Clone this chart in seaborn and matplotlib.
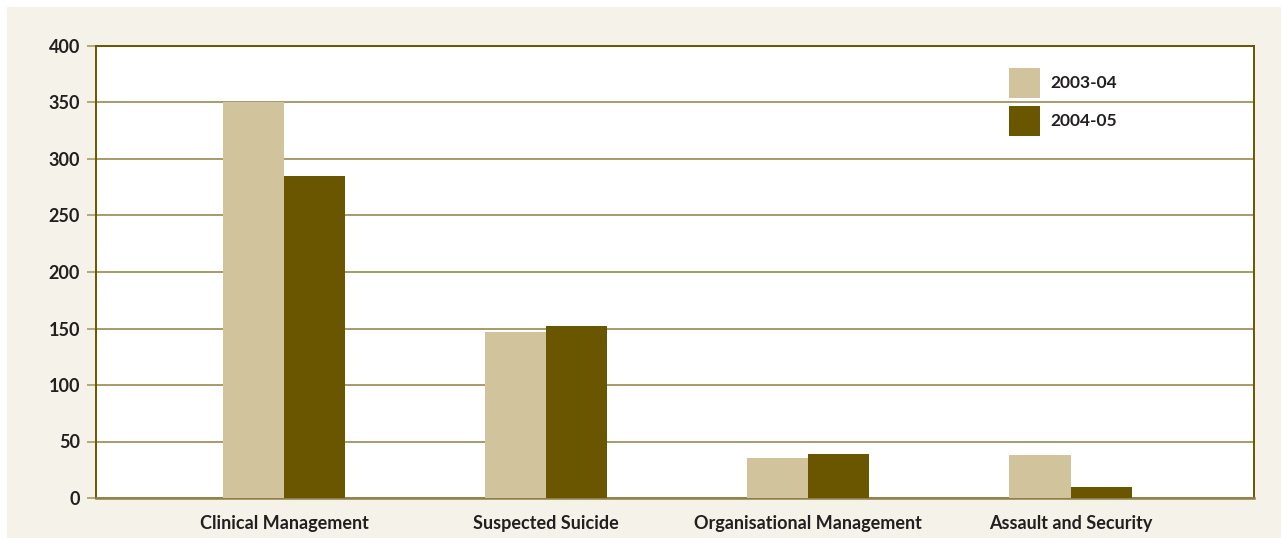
import matplotlib
matplotlib.use("Agg")
import matplotlib.pyplot as plt
from matplotlib.patches import Rectangle
import seaborn as sns
import pandas as pd

categories = ["Clinical Management", "Suspected Suicide",
              "Organisational Management", "Assault and Security"]
years = ["2003-04", "2004-05"]
values_2003_04 = [350, 147, 35, 38]
values_2004_05 = [285, 152, 39, 10]
y_ticks = [0, 50, 100, 150, 200, 250, 300, 350, 400]

df = pd.DataFrame({
    "category": categories * 2,
    "year": [years[0]] * len(categories) + [years[1]] * len(categories),
    "count": values_2003_04 + values_2004_05,
})

sns.set_theme(style="white")
plt.rcParams["font.family"] = ["Lato", "DejaVu Sans"]

W, H = 1281, 538
fig = plt.figure(figsize=(W / 100, H / 100), dpi=100, facecolor="white")
# beige panel behind the chart
fig.patches.append(Rectangle((7 / W, 0), 1 - 7 / W, 1 - 7 / H,
                             transform=fig.transFigure, facecolor="#f5f2ea",
                             edgecolor="none", zorder=-10))

left, right, top, bottom = 96, 1254, 46, 498
ax = fig.add_axes([left / W, 1 - bottom / H, (right - left) / W, (bottom - top) / H])
ax.set_facecolor("white")

palette = {"2003-04": "#d1c39b", "2004-05": "#6b5600"}
sns.barplot(data=df, x="category", y="count", hue="year", order=categories,
            hue_order=years, palette=palette, width=0.466, saturation=1,
            linewidth=0, ax=ax, zorder=3)

ax.set_xlim(-0.718, 3.70)
ax.set_ylim(0, 400)
ax.set_yticks(y_ticks)
ax.yaxis.grid(True, color="#a89a6a", linewidth=1.4, zorder=0)
ax.set_axisbelow(True)

for s in ["left", "right", "top"]:
    ax.spines[s].set_visible(True)
    ax.spines[s].set_color("#6b5600")
    ax.spines[s].set_linewidth(1.4)
ax.spines["bottom"].set_color("#8f7f45")
ax.spines["bottom"].set_linewidth(1.8)

ax.tick_params(axis="y", which="major", left=True, length=6.5, width=1.2,
               color="#a89a6a", pad=5, labelsize=13, labelcolor="#231f20")
ax.tick_params(axis="x", bottom=False, pad=6, labelsize=13, labelcolor="#231f20")
for lab in ax.get_yticklabels() + ax.get_xticklabels():
    lab.set_fontweight("bold")

ax.set_xlabel("")
ax.set_ylabel("")

leg = ax.legend(loc="upper left",
                bbox_to_anchor=((1009 - left) / (right - left), (bottom - 68) / (bottom - top)),
                frameon=False, borderpad=0, borderaxespad=0,
                handlelength=1.79, handleheight=2.28, handletextpad=0.6,
                labelspacing=0.46, prop={"weight": "bold", "size": 12.5})
for t in leg.get_texts():
    t.set_color("#231f20")

fig.savefig("out.png", dpi=100, facecolor="white")
